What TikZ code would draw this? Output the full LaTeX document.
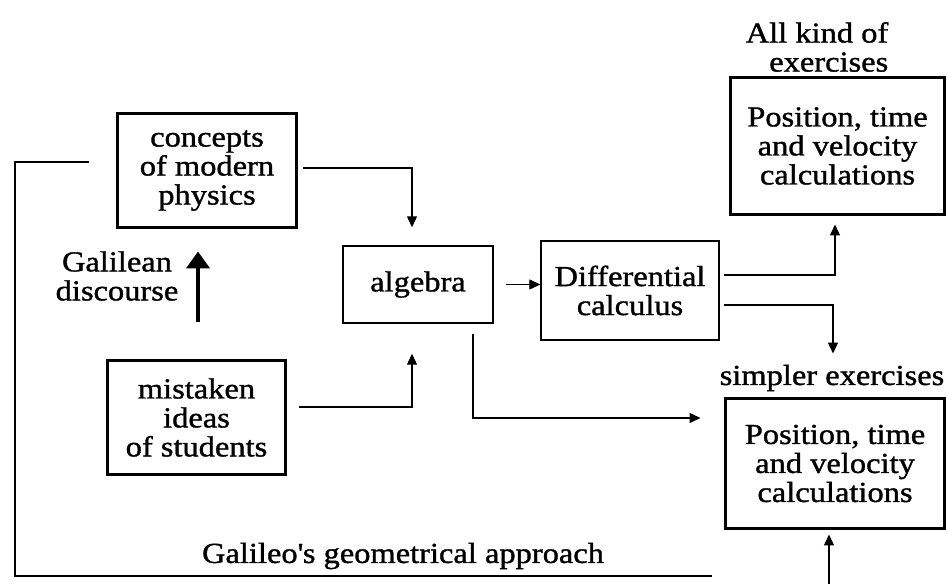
\documentclass[tikz,border=0pt]{standalone}
\usepackage{fontspec}
\setmainfont[FakeStretch=1.12,FakeBold=1.2]{Liberation Serif}
\usetikzlibrary{arrows.meta,positioning,calc}
\tikzset{
  box/.style={draw,line width=0.8pt,align=center,inner sep=2pt,font=\fontsize{16.5}{16.5}\selectfont},
  tbox/.style={box,line width=1.7pt},
  arr/.style={-{Triangle[length=2.2mm,width=2mm]},line width=0.6pt},
  lbl/.style={align=center,inner sep=1pt,font=\fontsize{16.5}{16.5}\selectfont},
  push/.style={-{Triangle[length=3.4mm,width=4.6mm]},line width=2.8pt}
}

\begin{document}
\begin{tikzpicture}[x=0.02cm,y=-0.02cm]
\useasboundingbox (0,0) rectangle (947,584);
% left column
\node[tbox,minimum width=3.6cm,minimum height=2.3cm] (phys) at (207,170.5) {concepts\\of modern\\physics};
\node[tbox,minimum width=3.58cm,minimum height=2.3cm] (mist) at (196.5,417.5) {mistaken\\ideas\\of students};
% middle
\node[box,minimum width=3cm,minimum height=1.54cm] (alg) at (418,284.5) {algebra};
\node[box,minimum width=3.56cm,minimum height=1.98cm] (diff) at (630,290.5) {Differential\\calculus};
% right column
\node[tbox,minimum width=4.3cm,minimum height=2.76cm] (allcalc) at (837.5,146) {Position, time\\and velocity\\calculations};
\node[tbox,minimum width=4.4cm,minimum height=2.62cm] (simcalc) at (835,463.5) {Position, time\\and velocity\\calculations};
\node[lbl,align=right] (allkind) at (817,47) {All kind of\\exercises};
\node[lbl] (simpler) at (832,378) {simpler exercises};
\node[lbl] (gal) at (117,276) {Galilean\\discourse};
\node[lbl] (geo) at (403,556) {Galileo\textquotesingle s geometrical approach};
% connectors
\draw[push,shorten <=0.74cm,shorten >=0.44cm] ([xshift=0.03cm]mist.north) -- ([xshift=0.03cm]mist.north |- phys.south);
\draw[arr] ([shift={(5,-2.5)}]phys.east) -| ([shift={(-6,-18)}]alg.north);
\draw[arr] ([shift={(12,-10.5)}]mist.east) -| ([shift={(-6,30)}]alg.south);
\draw[arr] ([shift={(12,0)}]alg.east) -- (alg.east -| diff.west);
\draw[arr] ([shift={(55,10)}]alg.south) |- ([shift={(-23,-45.5)}]simcalc.west);
\draw[arr] ([shift={(4,-15.5)}]diff.east) -| ([shift={(-2.5,8)}]allcalc.south);
\draw[arr] ([shift={(4,14.5)}]diff.east) -| ([shift={(-2,-43)}]simcalc.north);
% way round the left side
\coordinate (geoend) at (712,576);
\coordinate (geofoot) at (829,584);
\draw[line width=0.6pt] ([shift={(-27,-8.5)}]phys.west) -| (15,576) -- (geoend);
\draw[arr,shorten >=4*0.02cm] (geofoot) -- (geofoot |- simcalc.south);
\end{tikzpicture}
\end{document}
